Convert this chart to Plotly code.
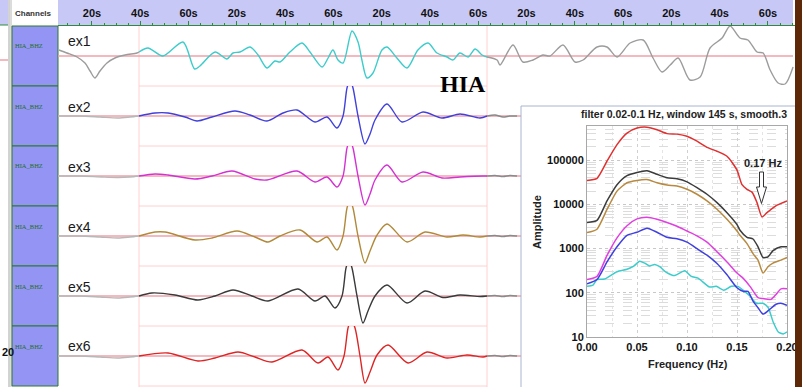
import plotly.graph_objects as go

W, H = 802, 387

# ---------------------------------------------------------------- waveforms
# time (s) and amplitude for each trace; window of analysis in seconds
WIN_START, WIN_END = 39.47, 183.63
T_RANGE = [5.92, 311.2]

EX1_T = [6.3, 9.6, 13.8, 17.1, 19.2, 21.2, 23.3, 26.2, 29.5, 33.7, 38.6, 39.47,
         43.2, 49.4, 57.7, 62.5, 64.7, 71.0, 75.9, 78.4, 81.3, 85.5, 88.8, 92.5,
         95.8, 97.9, 102.0, 107.0, 110.3, 115.3, 117.8, 119.8, 121.9, 124.0,
         127.7, 130.2, 131.8, 133.9, 136.4, 140.1, 142.2, 146.3, 150.5, 155.0,
         159.2, 162.9, 167.1, 169.5, 172.4, 175.8, 178.7, 181.6, 183.63, 187.8,
         189.0, 194.4, 198.5, 202.7, 206.8, 209.7, 215.1, 220.1, 223.4, 229.2,
         233.3, 237.5, 242.9, 248.3, 252.4, 256.1, 259.5, 262.8, 267.7, 271.9,
         276.0, 281.0, 284.3, 288.4, 291.7, 295.5, 298.0, 300.9, 304.2, 307.1,
         310.4]
EX1_A = [6, 3, -1, -7, -15, -22, -15, -7, -2, 1, 3, 4,
         8, 0, 14, -13, -10, 4, -3, 3, 4, 9, 1, -12,
         -5, -6, 4, 13, 4, -11, -2, 6, -4, -7,
         25, 14, -4, -22, -17, 6, 9, -2, -12, 6,
         13, 3, -1, -4, 3, -1, 7, 1, -1, -4,
         -9, 11, -6, -4, 1, 0, 11, -6, -4, 9,
         9, -1, 13, 16, -2, -16, -9, -2, -24, -21,
         8, 18, 30, 18, 16, 4, 3, -14, -27, -28,
         -11]

EX2_T = [5.92, 15.03, 23.31, 30.77, 35.74, 39.47, 46.10, 51.48, 58.53, 63.50,
         69.71, 79.24, 85.45, 92.49, 99.12, 104.92, 112.38, 117.35, 121.49,
         123.98, 125.63, 126.88, 128.12, 130.19, 133.09, 135.16, 137.23, 142.20,
         148.42, 157.12, 164.99, 172.44, 180.73, 183.63, 186.94, 190.26, 193.16,
         196.06]
EX2_A = [0, 0, -1, -2, -1, 0, 3, 3, -1, -5,
         -1, 5, 1, -5, 3, 6, -6, -1, -12,
         0, 28, 36, 28, 0, -28, -18, -4, 12,
         -6, 4, -2, 2, -2, 0, 1, -1, 0,
         0]

EX3_T = [5.92, 15.03, 24.14, 30.77, 35.74, 39.47, 46.10, 51.48, 62.67, 69.71,
         78.00, 87.52, 92.49, 104.92, 112.38, 117.35, 121.49, 123.98, 125.63,
         126.88, 128.12, 130.19, 133.09, 135.16, 137.23, 142.20, 148.42, 157.12,
         164.99, 172.44, 181.97, 183.63, 186.94, 190.26, 193.16, 196.06]
EX3_A = [0, 0, -1, -1.5, -1, 0, 2, 1, -3, 0,
         5, -3, -4, 5, -6, -1, -11, 0, 28,
         36, 28, 0, -29, -18, -4, 11, -6, 4,
         -2, -1, 0, 0, 0.5, -0.5, 0.5, 0]

EX4_T = [5.92, 15.03, 23.31, 30.77, 35.74, 39.47, 46.10, 50.24, 62.67, 69.71,
         80.07, 87.52, 92.91, 97.88, 106.16, 113.21, 117.35, 121.49, 123.98,
         125.63, 126.88, 128.12, 130.19, 133.09, 135.16, 138.06, 142.20, 150.49,
         157.95, 167.06, 173.69, 180.73, 183.63, 186.94, 190.26, 193.16, 196.06]
EX4_A = [0, 0, -1, -2, -1, 0, 4, 4, -4, -2,
         5, -1, -6, 0, 6, -6, -1, -14, 0,
         28, 36, 28, 0, -27, -15, 1, 12, -6,
         4, -1, 1, -1, 0, 0.5, -0.5, 0.5, 0]

EX5_T = [5.92, 15.03, 23.31, 30.77, 35.74, 39.47, 44.85, 54.38, 63.91, 70.95,
         78.41, 86.28, 92.91, 105.34, 112.38, 116.52, 120.66, 123.56, 125.22,
         126.46, 127.70, 129.78, 132.26, 134.33, 137.23, 142.20, 150.49, 157.95,
         165.40, 172.44, 180.73, 183.63, 186.94, 190.26, 193.16, 196.06]
EX5_A = [0, 0, -1, -2, -1, 0, 3, 1, -4, 0,
         6, 0, -5, 7, -5, 0, -12, 0, 28,
         36, 28, 0, -27, -15, 0, 11, -7, 5,
         -1.5, 1, -0.5, 0, 0.5, -0.5, 0.5, 0]

EX6_T = [5.92, 15.03, 23.31, 30.77, 35.74, 39.47, 51.48, 63.91, 70.95, 80.48,
         87.52, 94.57, 106.99, 113.62, 117.76, 121.90, 124.39, 126.05, 127.29,
         128.95, 131.02, 133.09, 135.16, 138.06, 142.62, 150.91, 158.77, 167.06,
         175.34, 181.97, 183.63, 186.94, 190.26, 193.16, 196.06]
EX6_A = [0, 0, -1, -2, -1, 0, 3, -5, -2, 4,
         -1, -6, 6, -7, -1, -14, 0, 28, 36,
         28, 0, -27, -16, 1, 11, -7, 4, -2,
         1, -1, 0, 0.5, -0.5, 0.5, 0]

ROW_NAMES = ["ex1", "ex2", "ex3", "ex4", "ex5", "ex6"]
ROW_T = [EX1_T, EX2_T, EX3_T, EX4_T, EX5_T, EX6_T]
ROW_A = [EX1_A, EX2_A, EX3_A, EX4_A, EX5_A, EX6_A]
ROW_COLORS = ["#3ccccc", "#4040dc", "#d232d2", "#b08a3a", "#3a3a3a", "#dc2626"]
CHANNEL = "HIA_BHZ"

TICK_SECONDS = [20, 40, 60, 80, 100, 120, 140, 160, 180, 200, 220, 240, 260, 280, 300]
TICK_LABELS = ["20s", "40s", "60s", "20s", "40s", "60s", "20s", "40s", "60s",
               "20s", "40s", "60s", "20s", "40s", "60s"]

# ---------------------------------------------------------------- spectra
RED_F = [0.0, 0.01, 0.02, 0.03, 0.04, 0.05, 0.06, 0.07, 0.08, 0.09, 0.10, 0.11,
         0.12, 0.13, 0.14, 0.15, 0.155, 0.16, 0.165, 0.17, 0.175, 0.18, 0.19, 0.20]
RED_A = [35000, 39000, 95000, 225000, 410000, 535000, 560000, 490000, 400000,
         390000, 350000, 270000, 196000, 160000, 123000, 60000, 28000, 22000,
         19000, 11000, 5200, 6500, 9600, 12000]

BLACK_F = [0.0, 0.01, 0.02, 0.03, 0.04, 0.05, 0.06, 0.07, 0.08, 0.09, 0.10, 0.11,
           0.12, 0.13, 0.14, 0.15, 0.153, 0.16, 0.166, 0.171, 0.176, 0.181,
           0.186, 0.194, 0.20]
BLACK_A = [3900, 4350, 12000, 28000, 45000, 53000, 58000, 48000, 40000, 38000,
           32500, 24000, 17000, 11000, 6500, 3500, 2600, 1800, 1650, 1100, 630,
           650, 900, 1100, 1100]

TAN_F = BLACK_F
TAN_A = [2300, 2750, 7700, 20000, 31000, 35000, 36500, 31000, 27500, 26000,
         22000, 17000, 12000, 7800, 4600, 2500, 2000, 1300, 770, 550, 280, 390,
         470, 550, 630]

MAGENTA_F = [0.0, 0.01, 0.02, 0.03, 0.04, 0.05, 0.06, 0.07, 0.08, 0.09, 0.10,
             0.11, 0.12, 0.13, 0.14, 0.15, 0.156, 0.163, 0.171, 0.176, 0.184,
             0.189, 0.194, 0.20]
MAGENTA_A = [200, 235, 700, 1750, 3300, 4700, 5100, 4600, 3900, 3200, 2500,
             1950, 1400, 850, 500, 280, 215, 140, 78, 74, 71, 92, 123, 123]

BLUE_F = [0.0, 0.01, 0.02, 0.03, 0.04, 0.05, 0.06, 0.07, 0.08, 0.09, 0.10, 0.11,
          0.12, 0.13, 0.14, 0.15, 0.156, 0.161, 0.166, 0.171, 0.176, 0.181,
          0.189, 0.194, 0.20]
BLUE_A = [160, 200, 500, 1100, 2000, 2350, 2900, 2350, 1800, 1670, 1400, 1000,
          710, 460, 255, 130, 108, 108, 65, 46, 33, 39, 55, 58, 52]

CYAN_F = [0.0, 0.006, 0.01, 0.0177, 0.03, 0.04, 0.0467, 0.0527, 0.0577, 0.0627,
          0.0677, 0.0727, 0.0793, 0.0877, 0.0977, 0.1043, 0.111, 0.1227, 0.1293,
          0.1367, 0.1443, 0.151, 0.156, 0.1627, 0.1693, 0.176, 0.181, 0.1863,
          0.1913, 0.1963, 0.20]
CYAN_A = [140, 150, 200, 205, 300, 340, 400, 520, 470, 405, 440, 390, 290, 245,
          315, 235, 215, 135, 140, 115, 140, 140, 115, 86, 58, 58, 47, 21.5, 13,
          11.7, 13]

SPECTRA = [(CYAN_F, CYAN_A, "#3ccccc"), (BLUE_F, BLUE_A, "#4040e0"),
           (MAGENTA_F, MAGENTA_A, "#e040e0"), (TAN_F, TAN_A, "#b88a40"),
           (BLACK_F, BLACK_A, "#3c3c3c"), (RED_F, RED_A, "#e03030")]

FREQ_TICKS = [0.0, 0.05, 0.10, 0.15, 0.20]
AMP_TICKS = [10, 100, 1000, 10000, 100000]

SANS = "Liberation Sans, Arial, sans-serif"
SERIF = "Liberation Serif, Times New Roman, serif"


def px(x):
    return x / W


def py(y):
    return 1 - y / H


ROW_TOP0, ROW_H = 26, 60
row_tops = [ROW_TOP0 + ROW_H * i for i in range(6)]

fig = go.Figure()

# seismogram rows: gray outside the analysis window, colored inside it
for i, (t, a, col) in enumerate(zip(ROW_T, ROW_A, ROW_COLORS)):
    yname = "y" if i == 0 else f"y{i + 1}"
    pre = [(tt, aa) for tt, aa in zip(t, a) if tt <= WIN_START]
    win = [(tt, aa) for tt, aa in zip(t, a) if WIN_START <= tt <= WIN_END]
    post = [(tt, aa) for tt, aa in zip(t, a) if tt >= WIN_END]
    pre_col = "#9c9c9c" if i == 0 else "#b8b8b8"
    post_col = "#9c9c9c" if i == 0 else "#8a8a8a"
    for seg, c in ((pre, pre_col), (win, col), (post, post_col)):
        if len(seg) < 2:
            continue
        fig.add_trace(go.Scatter(
            x=[s[0] for s in seg], y=[s[1] for s in seg], mode="lines",
            line=dict(color=c, width=1.4, shape="spline", smoothing=0.8),
            xaxis="x", yaxis=yname, hoverinfo="skip"))

# amplitude spectra
for f, a, c in SPECTRA:
    fig.add_trace(go.Scatter(
        x=f, y=a, mode="lines",
        line=dict(color=c, width=1.5, shape="spline", smoothing=0.6),
        xaxis="x2", yaxis="y7", hoverinfo="skip"))

layout = dict(
    width=W, height=H, autosize=False,
    margin=dict(l=0, r=0, t=0, b=0, pad=0, autoexpand=False),
    paper_bgcolor="white", plot_bgcolor="rgba(0,0,0,0)",
    showlegend=False, hovermode=False,
    font=dict(family=SANS, color="#111"),
)

layout["xaxis"] = dict(
    domain=[px(58), px(795)], range=T_RANGE, anchor="y", side="top",
    showline=True, linecolor="#2e8b3e", linewidth=1,
    ticks="outside", ticklen=4, tickcolor="#2e8b3e", tickwidth=1,
    tickmode="array", tickvals=TICK_SECONDS, ticktext=TICK_LABELS,
    tickfont=dict(family=SANS, size=11, color="#111", weight="bold"),
    minor=dict(dtick=5, ticks="outside", ticklen=2, tickcolor="#2e8b3e"),
    showgrid=False, zeroline=False, fixedrange=True, automargin=False,
)
for i, top in enumerate(row_tops):
    key = "yaxis" if i == 0 else f"yaxis{i + 1}"
    layout[key] = dict(domain=[py(top + ROW_H), py(top)], range=[-30, 30],
                       anchor="x", visible=False, fixedrange=True,
                       automargin=False)

minor_amp = [m * 10 ** k for k in range(1, 6) for m in range(2, 10)]
layout["xaxis2"] = dict(
    domain=[px(587), px(787)], range=[0, 0.2], anchor="y7",
    tickmode="array", tickvals=FREQ_TICKS,
    ticktext=[f"{v:.2f}" for v in FREQ_TICKS],
    tickfont=dict(family=SANS, size=11, color="#111", weight="bold"),
    showline=True, linecolor="#a8a8a8", mirror=True, ticks="",
    showgrid=True, gridcolor="#d0d0d0", griddash="dot",
    minor=dict(tickmode="array", tickvals=[0.025, 0.075, 0.125, 0.175],
               showgrid=True, gridcolor="#e4e4e4", griddash="dot"),
    zeroline=False, fixedrange=True, automargin=False,
)
layout["yaxis7"] = dict(
    domain=[py(337), py(126)], type="log", range=[1, 5.775], anchor="x2",
    tickmode="array", tickvals=AMP_TICKS, ticktext=[str(v) for v in AMP_TICKS],
    tickfont=dict(family=SANS, size=11, color="#111", weight="bold"),
    showline=True, linecolor="#a8a8a8", mirror=True, ticks="",
    showgrid=True, gridcolor="#c8c8c8", griddash="dot",
    minor=dict(tickmode="array", tickvals=minor_amp, showgrid=True,
               gridcolor="#dcdcdc", griddash="dash"),
    zeroline=False, fixedrange=True, automargin=False,
)

shapes = []


def rect(x0, y0, x1, y1, fill, line=None, lw=0, layer="below"):
    shapes.append(dict(type="rect", xref="paper", yref="paper",
                       x0=px(x0), x1=px(x1), y0=py(y1), y1=py(y0),
                       fillcolor=fill, line=dict(color=line or fill, width=lw),
                       layer=layer))


def hline_px(x0, x1, y, color, w=1, layer="below"):
    shapes.append(dict(type="line", xref="paper", yref="paper",
                       x0=px(x0), x1=px(x1), y0=py(y), y1=py(y),
                       line=dict(color=color, width=w), layer=layer))


def vline_px(x, y0, y1, color, w=1, layer="below"):
    shapes.append(dict(type="line", xref="paper", yref="paper",
                       x0=px(x), x1=px(x), y0=py(y0), y1=py(y1),
                       line=dict(color=color, width=w), layer=layer))


# time header band and neighbouring panel edge
rect(58, 0, 793, 25, "#c8c8f6")
rect(0, 0, 8, 25, "#c8c8f6")
hline_px(0, 8, 25, "#2e8b3e")
vline_px(9, 0, 387, "#a6a6a6")
vline_px(11, 0, 387, "#b8b8b8")
hline_px(0, 8, 60, "#f0a0aa", 1.5)

# channel boxes
for top in row_tops:
    rect(12, top, 58, top + ROW_H, "#9494f4", "#2a7a2a", 1)

# analysis window frame
for x_t in (WIN_START, WIN_END):
    shapes.append(dict(type="line", xref="x", yref="paper", x0=x_t, x1=x_t,
                       y0=py(26), y1=py(387),
                       line=dict(color="#ffd0d0", width=1), layer="below"))
for top in row_tops:
    shapes.append(dict(type="line", xref="x", yref="paper",
                       x0=WIN_START, x1=WIN_END,
                       y0=py(top + ROW_H), y1=py(top + ROW_H),
                       line=dict(color="#ffd0d0", width=1), layer="below"))

# zero lines of each trace
for i in range(6):
    yname = "y" if i == 0 else f"y{i + 1}"
    x_end = 793 if i == 0 else 521
    shapes.append(dict(type="line", xref="paper", yref=yname,
                       x0=px(58), x1=px(x_end), y0=0, y1=0,
                       line=dict(color="#f0a0aa", width=1.5), layer="below"))

# spectrum panel
rect(521, 106, 796, 400, "white", "#a8b4d0", 1)

# hollow arrow pointing at the 0.17 Hz notch
arrow_pts = [(759.5, 172), (763.5, 172), (763.5, 187), (766.5, 187),
             (761.5, 203.5), (756.5, 187), (759.5, 187)]
path = "M " + " L ".join(f"{px(x):.5f},{py(y):.5f}" for x, y in arrow_pts) + " Z"
shapes.append(dict(type="path", xref="paper", yref="paper", path=path,
                   fillcolor="white", line=dict(color="#333", width=1),
                   layer="above"))

# right window border
rect(795, 0, 803, 388, "#5c2808", layer="above")

layout["shapes"] = shapes

ann = []


def text(x, y, s, size, color="#111", family=SANS, weight="normal",
         xanchor="center", angle=0):
    ann.append(dict(xref="paper", yref="paper", x=px(x), y=py(y), text=s,
                    showarrow=False, xanchor=xanchor, yanchor="middle",
                    textangle=angle,
                    font=dict(family=family, size=size, color=color,
                              weight=weight)))


text(13, 13, "Channels", 8, "#333", weight="bold", xanchor="left")
for top in row_tops:
    text(13, top + 20, CHANNEL, 6.5, "#1e6e1e", family=SERIF, xanchor="left")

label_y = [41, 107, 167, 227, 287, 346]
for name, y in zip(ROW_NAMES, label_y):
    text(66, y, name, 14, "#1a1a1a", xanchor="left")

text(463, 84, "HIA", 24, "#000", family=SERIF, weight="bold")
text(0, 352, "20", 11, "#111", weight="bold", xanchor="left")

text(684, 114, "filter 0.02-0.1 Hz, window 145 s, smooth.3", 10.5, "#222",
     weight="bold")
text(763, 163, "0.17 Hz", 11, "#222", weight="bold")
text(537, 222, "Amplitude", 11, "#222", weight="bold", angle=-90)
text(688, 364, "Frequency (Hz)", 11, "#222", weight="bold")

layout["annotations"] = ann

fig.update_layout(**layout)
fig.write_html(
    "out.html",
    config={"staticPlot": True, "displayModeBar": False},
    post_script="document.body.style.margin='0';"
                "document.body.style.overflow='hidden';"
                "document.documentElement.style.overflow='hidden';",
)
